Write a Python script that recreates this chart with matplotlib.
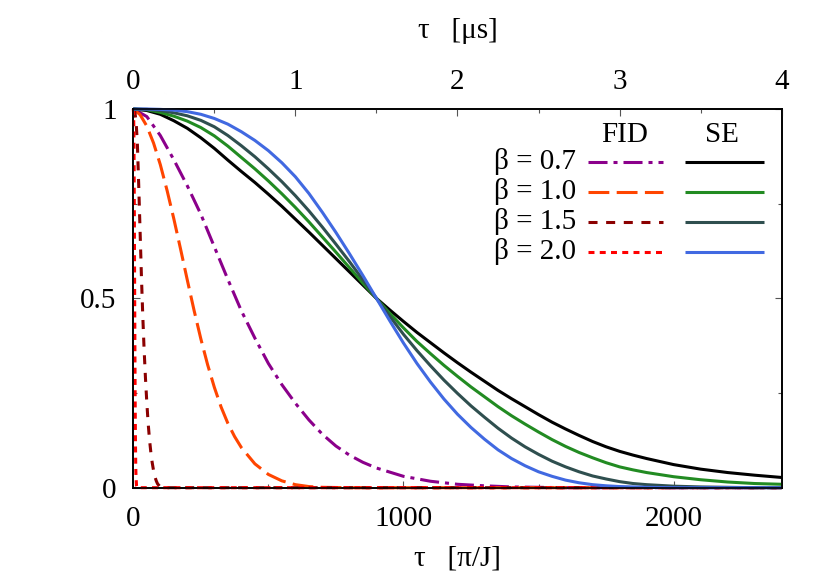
import matplotlib
matplotlib.use('Agg')
import matplotlib.pyplot as plt
from matplotlib.lines import Line2D

plt.rcParams['font.family'] = ['Liberation Serif', 'DejaVu Serif']
plt.rcParams['lines.scale_dashes'] = False

# ---------------- data ----------------
betas = ['0.7', '1.0', '1.5', '2.0']

t_se = [0, 50, 100, 150, 200, 250, 300, 350, 400, 450, 500, 550, 600, 650, 700,
        750, 800, 850, 900, 950, 1000, 1050, 1100, 1150, 1200, 1250, 1300, 1350,
        1400, 1450, 1500, 1550, 1600, 1650, 1700, 1750, 1800, 1850, 1900, 2000,
        2100, 2200, 2300, 2400]
se_07 = [1.0, 0.996, 0.986, 0.969, 0.949, 0.924, 0.896, 0.865, 0.835, 0.806, 0.775,
         0.743, 0.709, 0.675, 0.640, 0.605, 0.570, 0.535, 0.500, 0.469, 0.439,
         0.410, 0.383, 0.356, 0.330, 0.305, 0.281, 0.257, 0.235, 0.214, 0.193,
         0.173, 0.155, 0.138, 0.122, 0.108, 0.096, 0.086, 0.077, 0.061, 0.049,
         0.040, 0.033, 0.027]
se_10 = [1.0, 0.998, 0.991, 0.981, 0.968, 0.951, 0.929, 0.902, 0.872, 0.842, 0.810,
         0.776, 0.740, 0.702, 0.662, 0.622, 0.581, 0.540, 0.500, 0.460, 0.422,
         0.386, 0.354, 0.323, 0.294, 0.266, 0.240, 0.214, 0.190, 0.168, 0.147,
         0.127, 0.109, 0.093, 0.079, 0.066, 0.055, 0.047, 0.040, 0.029, 0.021,
         0.015, 0.011, 0.009]
se_15 = [1.0, 0.999, 0.996, 0.990, 0.982, 0.970, 0.953, 0.930, 0.903, 0.874, 0.842,
         0.808, 0.771, 0.731, 0.688, 0.643, 0.597, 0.549, 0.500, 0.452, 0.405,
         0.362, 0.322, 0.284, 0.249, 0.216, 0.186, 0.157, 0.131, 0.108, 0.088,
         0.070, 0.055, 0.042, 0.031, 0.023, 0.016, 0.011, 0.008, 0.004, 0.002,
         0.001, 0.0, 0.0]
se_20 = [1.0, 1.0, 0.999, 0.997, 0.993, 0.986, 0.975, 0.960, 0.940, 0.917, 0.890,
         0.858, 0.821, 0.777, 0.727, 0.674, 0.618, 0.560, 0.500, 0.440, 0.382,
         0.328, 0.279, 0.234, 0.194, 0.159, 0.128, 0.100, 0.077, 0.058, 0.042,
         0.030, 0.020, 0.013, 0.008, 0.005, 0.003, 0.002, 0.001, 0.0, 0.0, 0.0,
         0.0, 0.0]

t_f07 = [0, 50, 100, 150, 200, 250, 300, 350, 400, 450, 500, 550, 600, 650, 700,
         750, 800, 850, 900, 1000, 1100, 1200, 1300, 1400, 1500, 1600, 2400]
fid_07 = [1.0, 0.98, 0.93, 0.866, 0.797, 0.722, 0.636, 0.550, 0.467, 0.395, 0.328,
          0.272, 0.223, 0.179, 0.141, 0.110, 0.086, 0.067, 0.052, 0.030, 0.017,
          0.009, 0.005, 0.002, 0.001, 0.0, 0.0]

t_f10 = [0, 25, 50, 75, 100, 125, 150, 175, 200, 225, 250, 275, 300, 325, 350,
         375, 400, 450, 500, 550, 600, 650, 700, 800, 2400]
fid_10 = [1.0, 0.985, 0.955, 0.91, 0.853, 0.785, 0.710, 0.630, 0.548, 0.468, 0.393,
          0.325, 0.265, 0.213, 0.170, 0.135, 0.106, 0.063, 0.035, 0.018, 0.008,
          0.003, 0.001, 0.0, 0.0]

t_f15 = [0, 5, 10, 15, 20, 25, 30, 35, 40, 45, 50, 55, 60, 65, 70, 75, 80, 85, 90,
         100, 110, 2400]
fid_15 = [1.0, 0.995, 0.97, 0.91, 0.80, 0.68, 0.56, 0.455, 0.365, 0.29, 0.225,
          0.17, 0.127, 0.093, 0.066, 0.045, 0.029, 0.018, 0.010, 0.002, 0.0, 0.0]

t_f20 = [0, 1, 2, 3, 4, 5, 6, 7, 8, 9, 10, 12, 14, 2400]
fid_20 = [1.0, 0.99, 0.95, 0.85, 0.70, 0.52, 0.36, 0.22, 0.12, 0.06, 0.03, 0.005,
          0.0, 0.0]

x_ticks = [0, 1000, 2000]
x_minor = [500, 1500]
y_ticks = [0, 0.5, 1]
y_tick_labels = ['0', '0.5', '1']
y_minor = [0.25, 0.75]
top_ticks = [0, 1, 2, 3, 4]
top_minor = [0.5, 1.5, 2.5, 3.5]

# ---------------- styles ----------------
fid_styles = [
    dict(color='#8B008B', dashes=(13.7, 4.3, 2.9, 4.3)),
    dict(color='#FF4500', dashes=(15.0, 5.3)),
    dict(color='#8B0000', dashes=(6.5, 6.2)),
    dict(color='#FF0000', dashes=(4.3, 3.8)),
]
se_colors = ['#000000', '#228B22', '#2F4F4F', '#4169E1']
LW = 2.2
FS = 21

fid_t = [t_f07, t_f10, t_f15, t_f20]
fid_v = [fid_07, fid_10, fid_15, fid_20]
se_v = [se_07, se_10, se_15, se_20]

fig = plt.figure(figsize=(8.3, 5.81), dpi=100)
ax = fig.add_axes([0.1606, 0.1606, 0.7812, 0.6518])

for tt, vv, st in zip(fid_t, fid_v, fid_styles):
    ax.plot(tt, vv, lw=LW, color=st['color'], dashes=st['dashes'],
            clip_on=False, zorder=3)
for vv, c in zip(se_v, se_colors):
    ax.plot(t_se, vv, lw=LW, color=c, clip_on=False, zorder=3,
            solid_capstyle='butt', solid_joinstyle='round')

ax.set_xlim(0, 2400)
ax.set_ylim(0, 1)
ax.set_xticks(x_ticks)
ax.set_xticks(x_minor, minor=True)
ax.set_yticks(y_ticks)
ax.set_yticklabels(y_tick_labels)
ax.set_yticks(y_minor, minor=True)
tick_col = '#555555'
ax.tick_params(which='both', direction='in', top=False, right=True,
               width=0.8, color=tick_col)
ax.tick_params(which='major', length=5)
ax.tick_params(which='minor', length=3)
ax.tick_params(axis='x', which='major', pad=13, labelsize=FS)
ax.tick_params(axis='y', which='major', pad=12, labelsize=FS)
for s in ax.spines.values():
    s.set_linewidth(1.2)

ax2 = ax.twiny()
ax2.set_xlim(0, 4)
ax2.set_xticks(top_ticks)
ax2.set_xticks(top_minor, minor=True)
ax2.tick_params(which='both', direction='in', width=0.8, color=tick_col)
ax2.tick_params(which='major', length=5, pad=10, labelsize=FS)
ax2.tick_params(which='minor', length=3)
for s in ax2.spines.values():
    s.set_linewidth(1.2)

# axis titles
fig.text(0.5512, 16 / 581, 'τ   [π/J]', ha='center', va='baseline', fontsize=FS)
fig.text(0.5512, 1 - 38 / 581, 'τ   [μs]', ha='center', va='baseline', fontsize=FS)

# manual two-column legend
row_base = [0.8408, 0.7616, 0.6823, 0.6031]
row_line = [0.8608, 0.7816, 0.7024, 0.6232]
ax.text(0.7574, 0.9121, 'FID', transform=ax.transAxes, ha='center',
        va='baseline', fontsize=FS)
ax.text(0.9075, 0.9121, 'SE', transform=ax.transAxes, ha='center',
        va='baseline', fontsize=FS)
for b, yb, yl, st, c in zip(betas, row_base, row_line, fid_styles, se_colors):
    ax.text(0.683, yb, 'β = ' + b, transform=ax.transAxes, ha='right',
            va='baseline', fontsize=FS)
    ax.add_line(Line2D([0.7013, 0.8170], [yl, yl], transform=ax.transAxes,
                       lw=LW, color=st['color'], dashes=st['dashes']))
    ax.add_line(Line2D([0.8508, 0.9727], [yl, yl], transform=ax.transAxes,
                       lw=LW, color=c, solid_capstyle='butt'))

fig.savefig('out.png', dpi=100)
